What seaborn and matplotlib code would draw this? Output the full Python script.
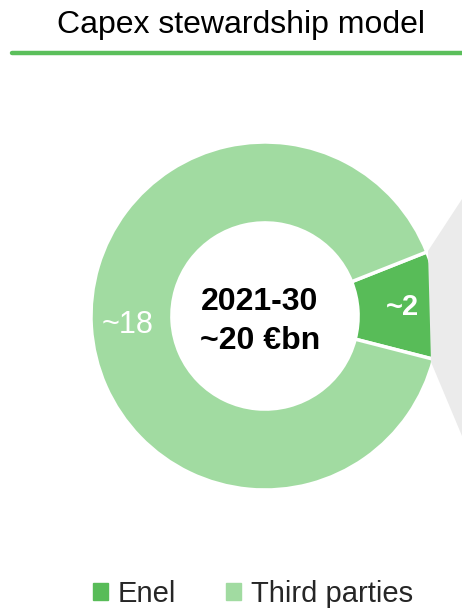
import matplotlib.pyplot as plt
import matplotlib.patches as mpatches
import numpy as np
import seaborn as sns

# data
categories = ["Enel", "Third parties"]
values = [2, 18]
value_labels = ["~2", "~18"]
center_text = "2021-30\n~20 €bn"
title = "Capex stewardship model"

colors = ["#58BC58", "#A1DBA1"]

sns.set_theme(style="white")
plt.rcParams['font.family'] = ['Liberation Sans', 'DejaVu Sans']

fig = plt.figure(figsize=(4.62, 6.10), dpi=100)

# grey connector shape toward the next panel
fig.patches.append(mpatches.Polygon(
    [(428 / 462, 1 - 251 / 610), (1.0, 1 - 199 / 610), (1.0, 1 - 436 / 610), (431 / 462, 1 - 362 / 610)],
    closed=True, transform=fig.transFigure, facecolor="#EBEBEB", edgecolor="none", zorder=0))

# title and underline
fig.text(241 / 462, 1 - 25 / 610, title, ha="center", va="center", fontsize=23, color="black")
fig.add_artist(plt.Line2D([12 / 462, 1.0], [1 - 53 / 610, 1 - 53 / 610], transform=fig.transFigure,
                          color="#5BBF5B", linewidth=3.2))

# donut
ax = fig.add_axes([91 / 462, 120 / 610, 348 / 462, 348 / 610])
start = -14.4
wedges, _ = ax.pie(values, colors=colors, startangle=start, counterclock=True, radius=1,
                   wedgeprops=dict(width=0.465, edgecolor="white", linewidth=2.5))
ax.set_xlim(-1.0, 1.0)
ax.set_ylim(-1.0, 1.0)
ax.set_aspect("equal")
ax.axis("off")

total = sum(values)
angle = start
for i, v in enumerate(values):
    span = 360 * v / total
    mid = np.deg2rad(angle + span / 2)
    r = 0.79
    ax.text(r * np.cos(mid), r * np.sin(mid), value_labels[i], ha="center", va="center",
            color="white", fontsize=21 if i == 0 else 22, fontweight="bold" if i == 0 else "normal")
    angle += span

ax.text(-0.03, -0.03, center_text, ha="center", va="center", fontsize=23, fontweight="bold",
        linespacing=1.38, color="black")

# legend
handles = [mpatches.Patch(color=c, label=l) for c, l in zip(colors, categories)]
fig.legend(handles=handles, loc="center", bbox_to_anchor=(253 / 462, 1 - 594 / 610), ncol=2, frameon=False,
           fontsize=21, handlelength=0.5, handleheight=0.5, handletextpad=0.35, columnspacing=1.7)

fig.savefig("out.png", dpi=100)
